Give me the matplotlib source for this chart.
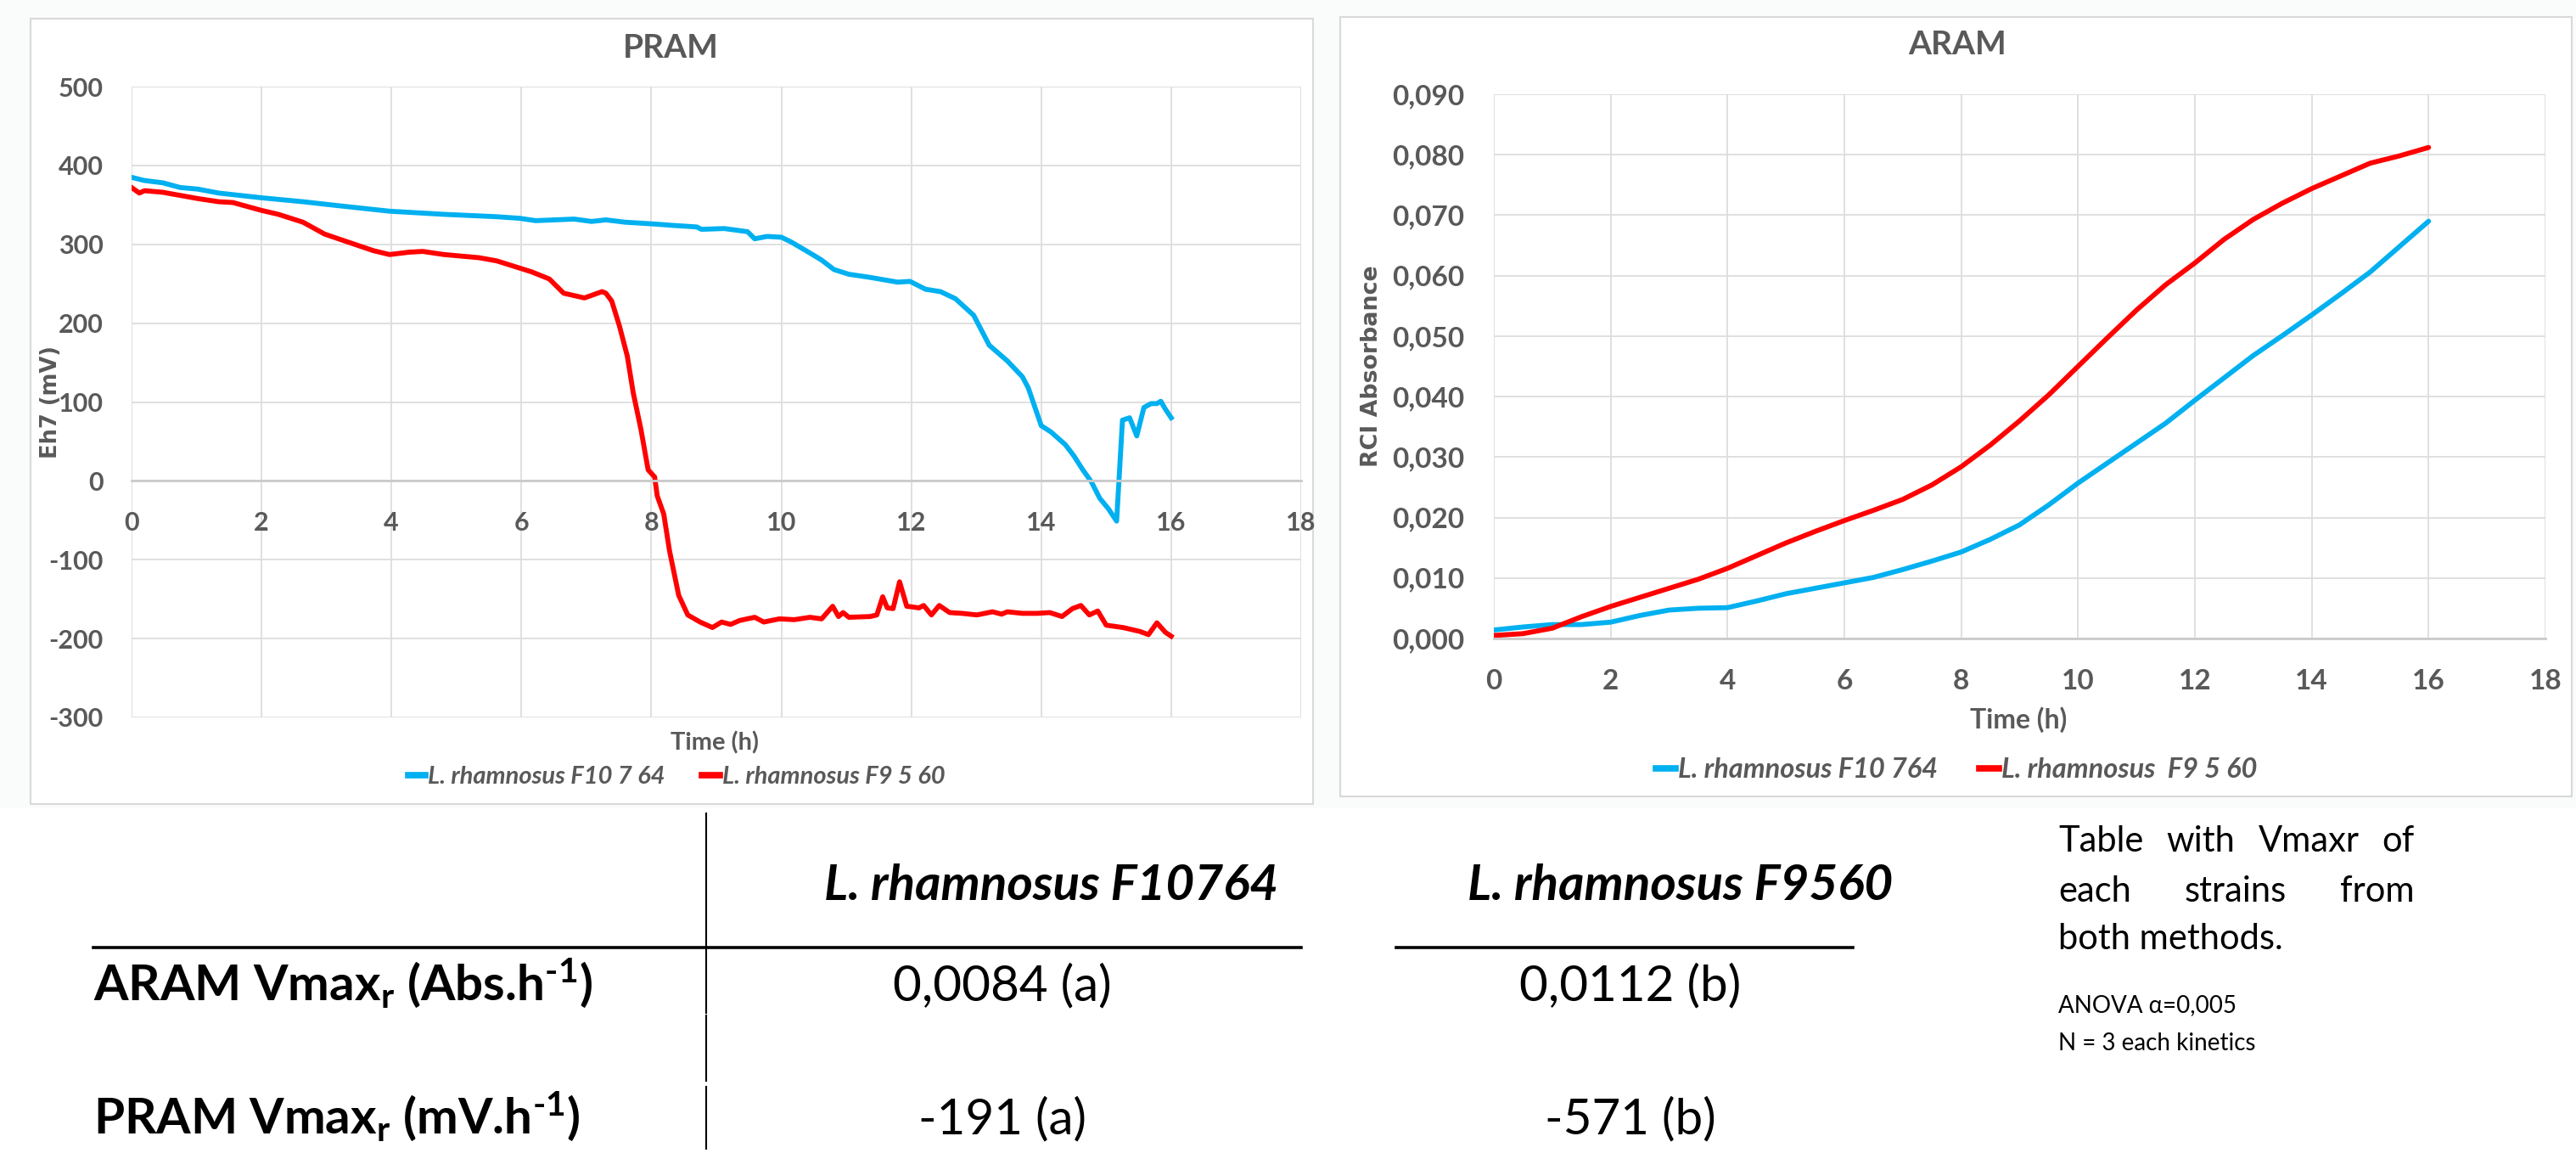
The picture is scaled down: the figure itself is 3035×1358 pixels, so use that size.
import matplotlib
matplotlib.use('Agg')
import matplotlib.pyplot as plt
from matplotlib.patches import Rectangle
from matplotlib.lines import Line2D
from matplotlib.ticker import FuncFormatter, MultipleLocator

plt.rcParams['font.family'] = ['Lato', 'DejaVu Sans']
plt.rcParams['mathtext.fontset'] = 'custom'
plt.rcParams['mathtext.rm'] = 'Lato:bold'
plt.rcParams['mathtext.bf'] = 'Lato:bold'
plt.rcParams['mathtext.it'] = 'Lato:bold'

# ---------------- data ----------------
# PRAM, redox potential Eh7 (mV) against time (h)
pram_blue_t = [0, 0.19, 0.48, 0.75, 1.02, 1.34, 2.0, 2.64, 3.18, 3.97, 4.81, 5.62, 5.97,
               6.22, 6.81, 7.08, 7.3, 7.6, 8.0, 8.33, 8.70, 8.77, 9.12, 9.48, 9.59, 9.78,
               10.0, 10.15, 10.44, 10.62, 10.81, 11.04, 11.37, 11.79, 11.98, 12.22, 12.45,
               12.68, 12.96, 13.2, 13.48, 13.71, 13.8, 14.0, 14.15, 14.37, 14.5, 14.64,
               14.77, 14.9, 15.03, 15.16, 15.25, 15.36, 15.47, 15.58, 15.69, 15.78, 15.84,
               15.91, 16.0]
pram_blue = [385, 381, 378, 372, 370, 365, 359, 354, 349, 342, 338, 335, 333,
             330, 332, 329, 331, 328, 326, 324, 322, 319, 320, 316, 307, 310,
             309, 303, 289, 280, 268, 262, 258, 252, 253, 243, 240,
             231, 210, 172, 152, 132, 118, 70, 62, 46, 32, 14,
             -1, -22, -35, -51, 77, 80, 57, 93, 98, 98, 101,
             91, 80]

pram_red_t = [0, 0.12, 0.2, 0.48, 0.75, 1.02, 1.34, 1.56, 1.78, 2.0, 2.26, 2.64, 2.97, 3.29,
              3.72, 3.97, 4.27, 4.48, 4.81, 5.35, 5.62, 5.89, 6.16, 6.43, 6.65, 6.97, 7.24,
              7.3, 7.39, 7.51, 7.63, 7.72, 7.84, 7.95, 8.05, 8.09, 8.19, 8.28, 8.42, 8.56,
              8.75, 8.94, 9.08, 9.22, 9.36, 9.59, 9.73, 9.97, 10.2, 10.44, 10.62, 10.79,
              10.88, 10.95, 11.04, 11.37, 11.47, 11.56, 11.63, 11.72, 11.82, 11.93, 12.12,
              12.19, 12.31, 12.43, 12.59, 12.78, 13.01, 13.25, 13.39, 13.48, 13.71, 13.94,
              14.13, 14.32, 14.48, 14.61, 14.74, 14.87, 15.0, 15.26, 15.52, 15.65, 15.78,
              15.91, 16.0]
pram_red = [372, 365, 368, 366, 362, 358, 354, 353, 348, 343, 338, 328, 313, 304,
            292, 287, 290, 291, 287, 283, 279, 272, 265, 256, 238, 232, 240,
            238, 228, 196, 158, 112, 65, 14, 5, -19, -42, -89, -145, -170,
            -179, -186, -179, -182, -177, -173, -179, -175, -176, -173, -175, -159,
            -172, -167, -173, -172, -170, -147, -161, -162, -128, -159, -161,
            -158, -170, -158, -167, -168, -170, -166, -169, -166, -168, -168,
            -167, -172, -162, -158, -170, -165, -183, -186, -191, -195, -180,
            -192, -197]

# ARAM, RCI absorbance against time (h)
aram_t = [0, 0.5, 1, 1.5, 2, 2.5, 3, 3.5, 4, 4.5, 5, 5.5, 6, 6.5, 7, 7.5, 8, 8.5,
          9, 9.5, 10, 10.5, 11, 11.5, 12, 12.5, 13, 13.5, 14, 14.5, 15, 15.5, 16]
aram_blue = [0.0014, 0.0019, 0.0023, 0.0023, 0.0027, 0.0038, 0.0047, 0.0050, 0.0051,
             0.0062, 0.0074, 0.0083, 0.0092, 0.0101, 0.0114, 0.0128, 0.0143, 0.0164,
             0.0188, 0.0221, 0.0257, 0.0290, 0.0323, 0.0356, 0.0394, 0.0431, 0.0468,
             0.0501, 0.0535, 0.0570, 0.0606, 0.0648, 0.0690]
aram_red = [0.0005, 0.0008, 0.0017, 0.0036, 0.0053, 0.0068, 0.0083, 0.0098, 0.0116,
            0.0137, 0.0158, 0.0177, 0.0195, 0.0212, 0.0230, 0.0254, 0.0284, 0.0320,
            0.0360, 0.0403, 0.0450, 0.0497, 0.0543, 0.0585, 0.0621, 0.0660, 0.0693,
            0.0720, 0.0744, 0.0765, 0.0786, 0.0798, 0.0812]

pram_labels = ['L. rhamnosus F10 7 64', 'L. rhamnosus F9 5 60']
aram_labels = ['L. rhamnosus F10 764', 'L. rhamnosus  F9 5 60']

table_cols = ['L. rhamnosus F10764', 'L. rhamnosus F9560']
table_rows = [r'ARAM Vmax$_\mathrm{r}$ (Abs.h$^{\text{-1}}$)',
              r'PRAM Vmax$_\mathrm{r}$ (mV.h$^{\text{-1}}$)']
table_vals = [['0,0084 (a)', '0,0112 (b)'],
              ['-191 (a)', '-571 (b)']]
note_lines = [['Table', 'with', 'Vmaxr', 'of'], ['each', 'strains', 'from']]
note_last = 'both methods.'
stats_lines = ['ANOVA α=0,005', 'N = 3 each kinetics']

# ---------------- style ----------------
W, H = 3035, 1358
GREY = '#595959'
BLUE = '#00B0F0'
RED = '#FF0000'
GRID = '#DDDDDD'


def fx(px):
    return px / W


def fy(py):
    return 1 - py / H


fig = plt.figure(figsize=(W / 100, H / 100), dpi=100, facecolor='#FAFBFB')
renderer = fig.canvas.get_renderer()

# white frames of the two charts and the table area
for x0, y0, x1, y1, ec in [(36, 22, 1547, 947, '#D9D9D9'), (1579, 20, 3030, 938, '#D9D9D9'),
                           (0, 952, 3035, 1358, 'none')]:
    fig.add_artist(Rectangle((fx(x0), fy(y1)), fx(x1) - fx(x0), fy(y0) - fy(y1),
                             transform=fig.transFigure, facecolor='white', edgecolor=ec,
                             lw=1.5, zorder=-5))


def style_axes(ax, size, xpad, ypad):
    ax.set_facecolor('none')
    ax.grid(True, color=GRID, lw=1.3)
    ax.set_axisbelow(True)
    for s in ['top', 'right', 'left']:
        ax.spines[s].set_visible(False)
    ax.spines['bottom'].set_color('#CACACA')
    ax.spines['bottom'].set_linewidth(2)
    ax.tick_params(axis='both', length=0, labelsize=size, labelcolor=GREY)
    ax.tick_params(axis='x', pad=xpad)
    ax.tick_params(axis='y', pad=ypad)
    for lab in ax.get_xticklabels() + ax.get_yticklabels():
        lab.set_fontweight('bold')


def ylabel_fit(x, y, s, length):
    # rotated axis title, scaled to the length (px) it has in the picture
    t = fig.text(fx(x), fy(y), s, fontsize=18, fontweight='bold', color=GREY,
                 fontfamily='DejaVu Sans', rotation=90, ha='center', va='center')
    h = t.get_window_extent(renderer).height
    t.set_fontsize(18 * length / h)


# ---------------- PRAM chart ----------------
ax1 = fig.add_axes([fx(155), fy(845), fx(1533) - fx(155), fy(102) - fy(845)])
ax1.plot(pram_blue_t, pram_blue, color=BLUE, lw=4.2, solid_joinstyle='round')
ax1.plot(pram_red_t, pram_red, color=RED, lw=4.2, solid_joinstyle='round')
ax1.set_xlim(0, 18)
ax1.set_ylim(-300, 500)
ax1.xaxis.set_major_locator(MultipleLocator(2))
ax1.yaxis.set_major_locator(MultipleLocator(100))
ax1.yaxis.set_major_formatter(FuncFormatter(lambda v, p: f'{v:.0f}'))
ax1.spines['bottom'].set_position(('data', 0))
style_axes(ax1, 22, 26, 24)

fig.text(fx(790), fy(57), 'PRAM', fontsize=28, fontweight='bold', color=GREY,
         ha='center', va='center')
fig.text(fx(842), fy(875), 'Time (h)', fontsize=21, fontweight='bold', color=GREY,
         ha='center', va='center')
ylabel_fit(60, 473, 'Eh7 (mV)', 133)

# ---------------- ARAM chart ----------------
ax2 = fig.add_axes([fx(1760), fy(752), fx(2999) - fx(1760), fy(111) - fy(752)])
ax2.plot(aram_t, aram_blue, color=BLUE, lw=4.2, solid_capstyle='round')
ax2.plot(aram_t, aram_red, color=RED, lw=4.2, solid_capstyle='round')
ax2.set_xlim(0, 18)
ax2.set_ylim(0, 0.09)
ax2.xaxis.set_major_locator(MultipleLocator(2))
ax2.yaxis.set_major_locator(MultipleLocator(0.01))
ax2.yaxis.set_major_formatter(FuncFormatter(lambda v, p: f'{v:.3f}'.replace('.', ',')))
style_axes(ax2, 24, 26, 25)

fig.text(fx(2306), fy(52), 'ARAM', fontsize=28, fontweight='bold', color=GREY,
         ha='center', va='center')
fig.text(fx(2378), fy(848), 'Time (h)', fontsize=23, fontweight='bold', color=GREY,
         ha='center', va='center')
ylabel_fit(1616, 431, 'RCI Absorbance', 237)

# legends below the charts
handles = [Line2D([], [], color=BLUE, lw=5.5), Line2D([], [], color=RED, lw=5.5)]
for labels, cx, cy, size in [(pram_labels, 797, 915, 21), (aram_labels, 2305, 907, 23.5)]:
    fig.legend(handles, labels, loc='center', bbox_to_anchor=(fx(cx), fy(cy)), ncol=2,
               frameon=False, handlelength=0.7, handletextpad=0.1, columnspacing=1.5,
               prop=dict(family=['Lato', 'DejaVu Sans'], weight='bold', style='italic',
                         size=size), labelcolor=GREY)

# ---------------- table ----------------
for y0, y1 in [(958, 1193), (1196, 1273), (1280, 1353)]:
    fig.add_artist(Line2D([fx(832), fx(832)], [fy(y0), fy(y1)], transform=fig.transFigure,
                          color='black', lw=1.5))
for x0, x1 in [(110, 1533), (1645, 2183)]:
    fig.add_artist(Line2D([fx(x0), fx(x1)], [fy(1116), fy(1116)], transform=fig.transFigure,
                          color='black', lw=2.6))

col_x = [1239, 1980]
val_x = [1181, 1921]
row_y = [1178, 1335]
for name, x in zip(table_cols, col_x):
    fig.text(fx(x), fy(1060), name, fontsize=42, fontweight='bold', style='italic',
             ha='center', va='baseline')
for i, (name, y) in enumerate(zip(table_rows, row_y)):
    fig.text(fx(110), fy(y), name, fontsize=42, fontweight='bold', ha='left', va='baseline')
    for val, x in zip(table_vals[i], val_x):
        fig.text(fx(x), fy(y), val, fontsize=42, ha='center', va='baseline')

# justified note to the right of the table
for words, y in zip(note_lines, [1003, 1062]):
    texts = [fig.text(0, fy(y), w, fontsize=30, va='baseline') for w in words]
    widths = [t.get_window_extent(renderer).width for t in texts]
    gap = (2845 - 2425 - sum(widths)) / (len(words) - 1)
    x = 2425
    for t, w in zip(texts, widths):
        t.set_x(fx(x))
        x += w + gap
fig.text(fx(2425), fy(1118), note_last, fontsize=30, va='baseline')
for line, y in zip(stats_lines, [1192, 1237]):
    fig.text(fx(2425), fy(y), line, fontsize=20, va='baseline')

fig.savefig('out.png', dpi=100, facecolor=fig.get_facecolor())
